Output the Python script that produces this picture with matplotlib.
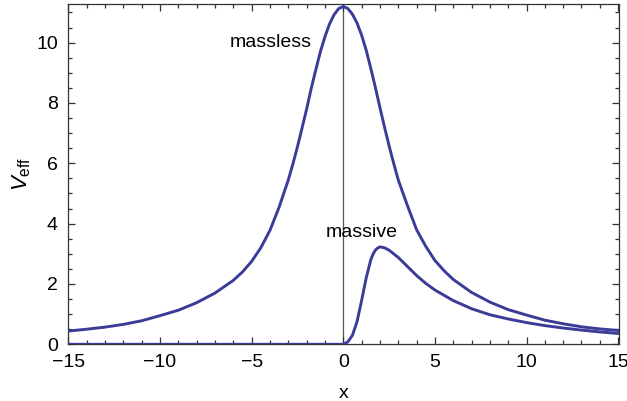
import numpy as np
import matplotlib.pyplot as plt
from matplotlib.ticker import MultipleLocator

# values
x_massless = [-15, -14, -13, -12, -11, -10, -9, -8, -7, -6, -5.5, -5, -4.5, -4,
              -3.5, -3, -2.75, -2.5, -2.25, -2, -1.75, -1.5, -1.25, -1, -0.75,
              -0.5, -0.25, 0, 0.25, 0.5, 0.75, 1, 1.25, 1.5, 1.75, 2, 2.25,
              2.5, 2.75, 3, 3.5, 4, 4.5, 5, 5.5, 6, 7, 8, 9, 10, 11, 12, 13,
              14, 15]
v_massless = [0.44, 0.50, 0.57, 0.66, 0.78, 0.95, 1.13, 1.38, 1.70, 2.12, 2.40,
              2.75, 3.20, 3.78, 4.55, 5.45, 5.98, 6.55, 7.17, 7.80, 8.48, 9.10,
              9.70, 10.20, 10.62, 10.93, 11.13, 11.20, 11.13, 10.94, 10.65,
              10.25, 9.75, 9.15, 8.52, 7.85, 7.20, 6.58, 6.00, 5.45, 4.60, 3.80,
              3.25, 2.78, 2.44, 2.15, 1.72, 1.40, 1.15, 0.97, 0.80, 0.68, 0.58,
              0.51, 0.46]

x_massive = [-15, -5, 0, 0.25, 0.5, 0.75, 1, 1.25, 1.5, 1.625, 1.75, 1.875, 2,
             2.25, 2.5, 3, 3.5, 4, 4.5, 5, 6, 7, 8, 9, 10, 11, 12, 13, 14, 15]
v_massive = [0, 0, 0, 0.08, 0.30, 0.75, 1.45, 2.20, 2.80, 2.99, 3.12, 3.19,
             3.23, 3.20, 3.12, 2.88, 2.58, 2.28, 2.02, 1.80, 1.45, 1.18, 0.98,
             0.84, 0.72, 0.62, 0.54, 0.47, 0.41, 0.36]

line_color = '#3b3b98'

plt.rcParams['font.family'] = ['Liberation Sans', 'DejaVu Sans']
plt.rcParams['mathtext.fontset'] = 'custom'
plt.rcParams['mathtext.rm'] = 'Liberation Sans'
plt.rcParams['mathtext.it'] = 'Liberation Sans:italic'

fig = plt.figure(figsize=(6.27, 4.01), dpi=100)
ax = fig.add_axes([0.108, 0.1414, 0.879, 0.8478])

ax.axvline(0, color='#555555', lw=0.9, zorder=1)
ax.plot(x_massless, v_massless, color=line_color, lw=2.1, zorder=3,
        solid_joinstyle='round')
ax.plot(x_massive, v_massive, color=line_color, lw=2.1, zorder=3,
        solid_joinstyle='round')

ax.text(-3.97, 10.0, 'massless', fontsize=14, ha='center', va='center')
ax.text(1.0, 3.71, 'massive', fontsize=14, ha='center', va='center')

ax.set_xlim(-15.04, 15.04)
ax.set_ylim(0, 11.27)

ax.xaxis.set_major_locator(MultipleLocator(5))
ax.xaxis.set_minor_locator(MultipleLocator(1))
ax.yaxis.set_major_locator(MultipleLocator(2))
ax.yaxis.set_minor_locator(MultipleLocator(0.5))
ax.tick_params(which='both', direction='in', top=True, right=True,
               labelsize=14, color='#333333', width=0.9)
ax.tick_params(axis='x', which='major', length=5, pad=7)
ax.tick_params(axis='y', which='major', length=5, pad=7)
ax.tick_params(which='minor', length=3)
for s in ax.spines.values():
    s.set_color('#333333')
    s.set_linewidth(0.9)

ax.set_xlabel('x', fontsize=14, labelpad=10)
ax.set_ylabel(r'$V_{\mathrm{eff}}$', fontsize=16, labelpad=2)

plt.savefig('out.png', dpi=100)
